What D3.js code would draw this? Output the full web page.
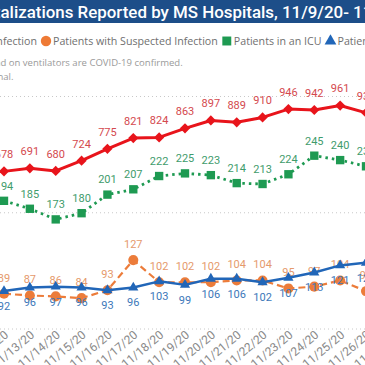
<!DOCTYPE html>
<html>
<head>
<meta charset="utf-8">
<script src="https://cdn.jsdelivr.net/npm/d3@7"></script>
<style>
  body { margin: 0; background: #fff; }
  svg { display: block; }
</style>
</head>
<body>
<div id="chart"></div>
<script>
// values, 11/12/20 .. 11/26/20
var dates = ["2020-11-12","2020-11-13","2020-11-14","2020-11-15","2020-11-16","2020-11-17","2020-11-18",
             "2020-11-19","2020-11-20","2020-11-21","2020-11-22","2020-11-23","2020-11-24","2020-11-25","2020-11-26"];
var confirmed = [678, 691, 680, 724, 775, 821, 824, 863, 897, 889, 910, 946, 942, 961, 930];
var icu       = [194, 185, 173, 180, 201, 207, 222, 225, 223, 214, 213, 224, 245, 240, 233];
var suspected = [89, 87, 86, 84, 93, 127, 102, 102, 102, 104, 104, 95, 97, 104, 92];
var vent      = [92, 96, 97, 96, 93, 96, 103, 99, 106, 106, 102, 107, 113, 121, 124];
var axisFrom = "2020-11-09", axisTo = "2020-11-29";
var gridValues = [0, 500, 1000];

var title = "COVID-19 Hospitalizations Reported by MS Hospitals, 11/9/20- 11/29/20";
var legendNames = ["Patients with Confirmed Infection", "Patients with Suspected Infection",
                   "Patients in an ICU", "Patients on Ventilators"];
var notes = ["Note: Patients in an ICU and on ventilators are COVID-19 confirmed.",
             "Data are provisional."];

var W = 365, H = 365;
var parse = d3.timeParse("%Y-%m-%d");
var fmt = d3.timeFormat("%-m/%-d/%y");

var svg = d3.select("#chart").append("svg").attr("width", W).attr("height", H);

//scales: confirmed on its own axis, the other three share one
var x = d3.scaleTime()
    .domain([parse(dates[0]), parse(dates[dates.length - 1])])
    .range([4, 366]);
var yConf = d3.scaleLinear().domain([0, 1000]).range([329, 96.5]);
var yLow = d3.scaleLinear().domain([0, 300]).range([372.5, 107]);

//set font size so that chars [from,to) of the string span x0..x1
function fitText(t, str, from, to, x0, x1) {
    t.text(str).attr("x", 0);
    var node = t.node();
    var fs = parseFloat(t.attr("font-size"));
    var w = node.getSubStringLength(from, to - from);
    t.attr("font-size", fs * (x1 - x0) / w);
    var off = from > 0 ? node.getSubStringLength(0, from) : 0;
    t.attr("x", x0 - off);
    return t;
}

/////////////// title bar ///////////////
svg.append("rect").attr("x", 0).attr("y", 0).attr("width", W).attr("height", 23).attr("fill", "#1d4e89");
var tt = svg.append("text")
    .attr("y", 17.5)
    .attr("font-family", "Roboto, 'DejaVu Sans', sans-serif")
    .attr("font-weight", 500)
    .attr("font-size", 16)
    .attr("fill", "#fff");
var a = title.indexOf("alizations");
var b = title.indexOf("- 1") + 3;
fitText(tt, title, a, b, 0.5, 363);

/////////////// legend ///////////////
var legendColors = ["#e8141b", "#ee7a35", "#1e9a52", "#2166b8"];
var legendShapes = [d3.symbolSquare, d3.symbolCircle, d3.symbolSquare, d3.symbolTriangle];
var lg = svg.append("g").attr("class", "legend");
var probe = lg.append("text")
    .attr("font-family", "'Open Sans', 'Noto Sans', sans-serif")
    .attr("font-size", 11);
fitText(probe, legendNames[1], 0, legendNames[1].length, 0, 165);
var lfs = +probe.attr("font-size");
probe.remove();

var cx = 0, items = [];
legendNames.forEach(function(name, i) {
    var mx = cx + 9;
    var t = lg.append("text")
        .attr("font-family", "'Open Sans', 'Noto Sans', sans-serif")
        .attr("font-size", lfs)
        .attr("fill", "#6f6f6f")
        .attr("y", 45)
        .attr("x", mx + 7)
        .text(name);
    var w = t.node().getComputedTextLength();
    items.push({mx: mx});
    lg.append("path")
        .attr("d", d3.symbol().type(legendShapes[i]).size(i === 1 ? 85 : (i === 3 ? 60 : 80)))
        .attr("transform", "translate(" + mx + ",41)" + (i === 0 ? " rotate(45)" : ""))
        .attr("fill", legendColors[i]);
    cx = mx + 7 + w;
});
lg.attr("transform", "translate(" + (53 - (items[1].mx + 7)) + ",0)");

/////////////// notes ///////////////
var n1 = svg.append("text")
    .attr("y", 66)
    .attr("font-family", "'Open Sans', 'Noto Sans', sans-serif")
    .attr("font-size", 10)
    .attr("fill", "#9a9a9a");
var s = notes[0].indexOf("d on ventilators");
fitText(n1, notes[0], s, notes[0].length, 0.5, 183);
svg.append("text")
    .attr("x", 13.5).attr("y", 80)
    .attr("text-anchor", "end")
    .attr("font-family", "'Open Sans', 'Noto Sans', sans-serif")
    .attr("font-size", n1.attr("font-size"))
    .attr("fill", "#9a9a9a")
    .text(notes[1]);

/////////////// grid ///////////////
svg.append("g").selectAll("line")
    .data(gridValues)
    .enter().append("line")
    .attr("x1", 0).attr("x2", W)
    .attr("y1", function(d) { return yConf(d); })
    .attr("y2", function(d) { return yConf(d); })
    .attr("stroke", "#c8c8c8")
    .attr("stroke-width", 1)
    .attr("stroke-dasharray", "1,3");

/////////////// x axis ///////////////
var xAxis = d3.axisBottom(x)
    .tickValues(d3.timeDay.range(parse(axisFrom), d3.timeDay.offset(parse(axisTo), 1)))
    .tickFormat(fmt)
    .tickSize(0);
var gx = svg.append("g").attr("transform", "translate(2,333)").call(xAxis);
gx.select(".domain").remove();
gx.selectAll("text")
    .attr("font-family", "'Liberation Sans Narrow', Roboto, sans-serif")
    .attr("font-size", 12)
    .attr("fill", "#8a8a8a")
    .attr("text-anchor", "end")
    .attr("dy", "0.35em")
    .attr("y", 0)
    .attr("transform", "rotate(-40)");

/////////////// series ///////////////
var rows = dates.map(function(d, i) {
    return {date: parse(d), conf: confirmed[i], icu: icu[i], susp: suspected[i], vent: vent[i]};
});

var series = [
    {key: "susp", y: yLow, color: "#ec7c3a", label: "#e59a6c", dash: "7,4", width: 2.2,
     shape: d3.symbolCircle, size: 80, rot: 0, dy: -16},
    {key: "vent", y: yLow, color: "#2166b8", label: "#3d78b9", dash: null, width: 2.5,
     shape: d3.symbolTriangle, size: 45, rot: 0, dy: 15},
    {key: "icu", y: yLow, color: "#1e9a52", label: "#3f9c6c", dash: "2.5,4", width: 2.8,
     shape: d3.symbolSquare, size: 70, rot: 0, dy: -15},
    {key: "conf", y: yConf, color: "#e8141b", label: "#d4494e", dash: null, width: 3,
     shape: d3.symbolSquare, size: 52, rot: 45, dy: -17}
];

series.forEach(function(s) {
    var g = svg.append("g").attr("class", "series-" + s.key);
    var line = d3.line()
        .x(function(d) { return x(d.date); })
        .y(function(d) { return s.y(d[s.key]); });
    g.selectAll(".lbl")
        .data(rows)
        .enter().append("text")
        .attr("class", "lbl")
        .attr("x", function(d) { return x(d.date); })
        .attr("y", function(d) { return s.y(d[s.key]) + s.dy; })
        .attr("dy", "0.35em")
        .attr("text-anchor", "middle")
        .attr("font-family", "'Liberation Sans Narrow', Roboto, sans-serif")
        .attr("font-size", 11)
        .attr("fill", s.label)
        .text(function(d) { return d[s.key]; });
    g.append("path")
        .datum(rows)
        .attr("d", line)
        .attr("fill", "none")
        .attr("stroke", s.color)
        .attr("stroke-width", s.width)
        .attr("stroke-dasharray", s.dash)
        .attr("stroke-linejoin", "round");
    g.selectAll(".mk")
        .data(rows)
        .enter().append("path")
        .attr("class", "mk")
        .attr("d", d3.symbol().type(s.shape).size(s.size))
        .attr("transform", function(d) {
            return "translate(" + x(d.date) + "," + s.y(d[s.key]) + ") rotate(" + s.rot + ")";
        })
        .attr("fill", s.color);
});
</script>
</body>
</html>
